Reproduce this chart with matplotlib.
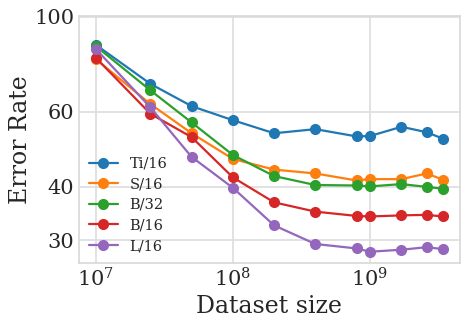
import matplotlib
matplotlib.use("Agg")
import matplotlib.pyplot as plt
import seaborn as sns
from matplotlib.ticker import FixedLocator, FixedFormatter, NullLocator

sns.set_theme(style="whitegrid")
plt.rcParams['font.family'] = ['DejaVu Serif']

sizes = [1e7, 2.5e7, 5e7, 1e8, 2e8, 4e8, 8e8, 1e9, 1.7e9, 2.6e9, 3.4e9]
ti16 = [86.0, 69.7, 61.8, 57.3, 53.4, 54.6, 52.5, 52.6, 55.3, 53.7, 51.9]
s16 = [79.6, 62.5, 53.4, 46.5, 43.9, 43.0, 41.4, 41.7, 41.7, 43.0, 41.6]
b32 = [85.4, 67.3, 56.6, 47.5, 42.4, 40.4, 40.3, 40.1, 40.6, 40.0, 39.6]
b16 = [80.2, 59.3, 52.3, 42.1, 36.8, 35.0, 34.2, 34.1, 34.3, 34.4, 34.1]
l16 = [84.1, 61.4, 47.0, 39.8, 32.5, 29.4, 28.7, 28.2, 28.5, 28.9, 28.6]
labels = ["Ti/16", "S/16", "B/32", "B/16", "L/16"]
series = [ti16, s16, b32, b16, l16]
colors = ["#1f77b4", "#ff7f0e", "#2ca02c", "#d62728", "#9467bd"]
yticks = [30, 40, 60, 100]

fig = plt.figure(figsize=(4.68, 3.23), dpi=100)
ax = fig.add_axes([0.168, 0.185, 0.814, 0.765])
for lab, ys, c in zip(labels, series, colors):
    ax.plot(sizes, ys, marker='o', color=c, label=lab, lw=1.6, ms=7)

ax.set_xscale('log')
ax.set_yscale('log')
ax.set_xlim(10**6.874, 10**9.655)
ax.set_ylim(26.5, 100.4)
ax.yaxis.set_major_locator(FixedLocator(yticks))
ax.yaxis.set_major_formatter(FixedFormatter([str(t) for t in yticks]))
ax.yaxis.set_minor_locator(NullLocator())
ax.xaxis.set_minor_locator(NullLocator())
ax.set_xticks([1e7, 1e8, 1e9])
ax.tick_params(axis='both', labelsize=15, pad=3, length=0)
ax.set_xlabel("Dataset size", fontsize=17, labelpad=3)
ax.set_ylabel("Error Rate", fontsize=17, labelpad=2)
for s in ax.spines.values():
    s.set_color('#d9d9d9')
ax.grid(True, color='#dddddd', lw=1.2)
leg = ax.legend(loc='lower left', frameon=False, fontsize=10.5,
                handlelength=2.0, labelspacing=0.45, borderaxespad=0.3)
fig.savefig("out.png", dpi=100)
